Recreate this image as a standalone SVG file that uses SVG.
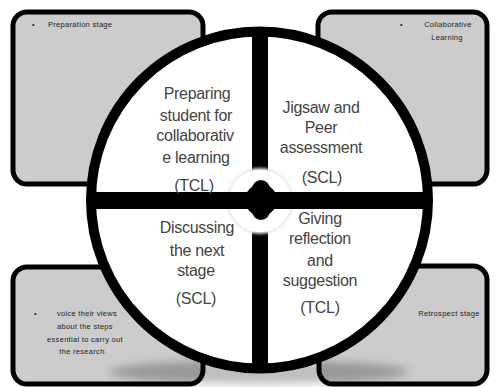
<svg xmlns="http://www.w3.org/2000/svg" width="499" height="387" viewBox="0 0 499 387">
<defs>
<style>
.box{fill:#cccccc;stroke:#000;stroke-width:5}
.btxt{font-family:"Liberation Sans",Arial,sans-serif;font-size:7.5px;fill:#222;letter-spacing:0.3px}
.big{font-family:"Liberation Sans",Arial,sans-serif;font-size:16px;fill:#444;text-anchor:middle;letter-spacing:-0.3px}
</style>
<filter id="glow" x="-50%" y="-50%" width="200%" height="200%"><feGaussianBlur stdDeviation="1.5"/></filter>
<filter id="sh" x="-20%" y="-20%" width="140%" height="140%"><feGaussianBlur stdDeviation="4"/></filter>
</defs>
<rect width="499" height="387" fill="#fff"/>
<g id="box-tl"><rect class="box" x="13" y="12" width="190" height="172" rx="14"/>
<text class="btxt" x="32" y="27">•</text><text class="btxt" x="48" y="27">Preparation stage</text></g>
<g id="box-tr"><rect class="box" x="318" y="12" width="169" height="172" rx="14"/>
<text class="btxt" x="400" y="27">•</text><text class="btxt" x="448" y="27" text-anchor="middle">Collaborative</text><text class="btxt" x="447" y="40" text-anchor="middle">Learning</text></g>
<g id="box-bl"><rect class="box" x="13" y="267" width="190" height="117" rx="14"/>
<text class="btxt" x="34" y="316">•</text>
<text class="btxt" x="87" y="316" text-anchor="middle">voice their views</text>
<text class="btxt" x="85" y="329" text-anchor="middle">about the steps</text>
<text class="btxt" x="85" y="342" text-anchor="middle">essential to carry out</text>
<text class="btxt" x="82" y="354" text-anchor="middle">the research</text></g>
<g id="box-br"><rect class="box" x="319" y="266" width="168" height="118" rx="14"/>
<text class="btxt" x="449" y="316" text-anchor="middle">Retrospect stage</text></g>
<ellipse cx="259" cy="372" rx="150" ry="12" fill="#000" opacity="0.25" filter="url(#sh)"/>
<g id="wheel">
<circle cx="259.5" cy="200" r="168.5" fill="#fff" stroke="#000" stroke-width="10"/>
<rect x="252" y="31" width="16" height="338" fill="#000"/>
<circle cx="260" cy="201" r="32" fill="#fff" stroke="#ddd" stroke-width="2" filter="url(#glow)"/>
<circle cx="260" cy="201" r="31" fill="#fff"/>
<rect x="91" y="192" width="337" height="17" fill="#000"/>
<circle cx="261" cy="200" r="16" fill="#000"/>
<rect x="252" y="180" width="18" height="40" rx="9" fill="#000"/>
</g>
<g id="q-tl"><text class="big" x="197" y="99">Preparing</text><text class="big" x="196" y="121">student for</text><text class="big" x="195" y="141">collaborativ</text><text class="big" x="196" y="163">e learning</text><text class="big" x="194" y="191">(TCL)</text></g>
<g id="q-tr"><text class="big" x="321" y="113">Jigsaw and</text><text class="big" x="321" y="133">Peer</text><text class="big" x="321" y="153">assessment</text><text class="big" x="322" y="183">(SCL)</text></g>
<g id="q-bl"><text class="big" x="197" y="233">Discussing</text><text class="big" x="197" y="256">the next</text><text class="big" x="196" y="276">stage</text><text class="big" x="196" y="304">(SCL)</text></g>
<g id="q-br"><text class="big" x="320" y="224">Giving</text><text class="big" x="320" y="244">reflection</text><text class="big" x="320" y="266">and</text><text class="big" x="320" y="286">suggestion</text><text class="big" x="320" y="313">(TCL)</text></g>
</svg>
